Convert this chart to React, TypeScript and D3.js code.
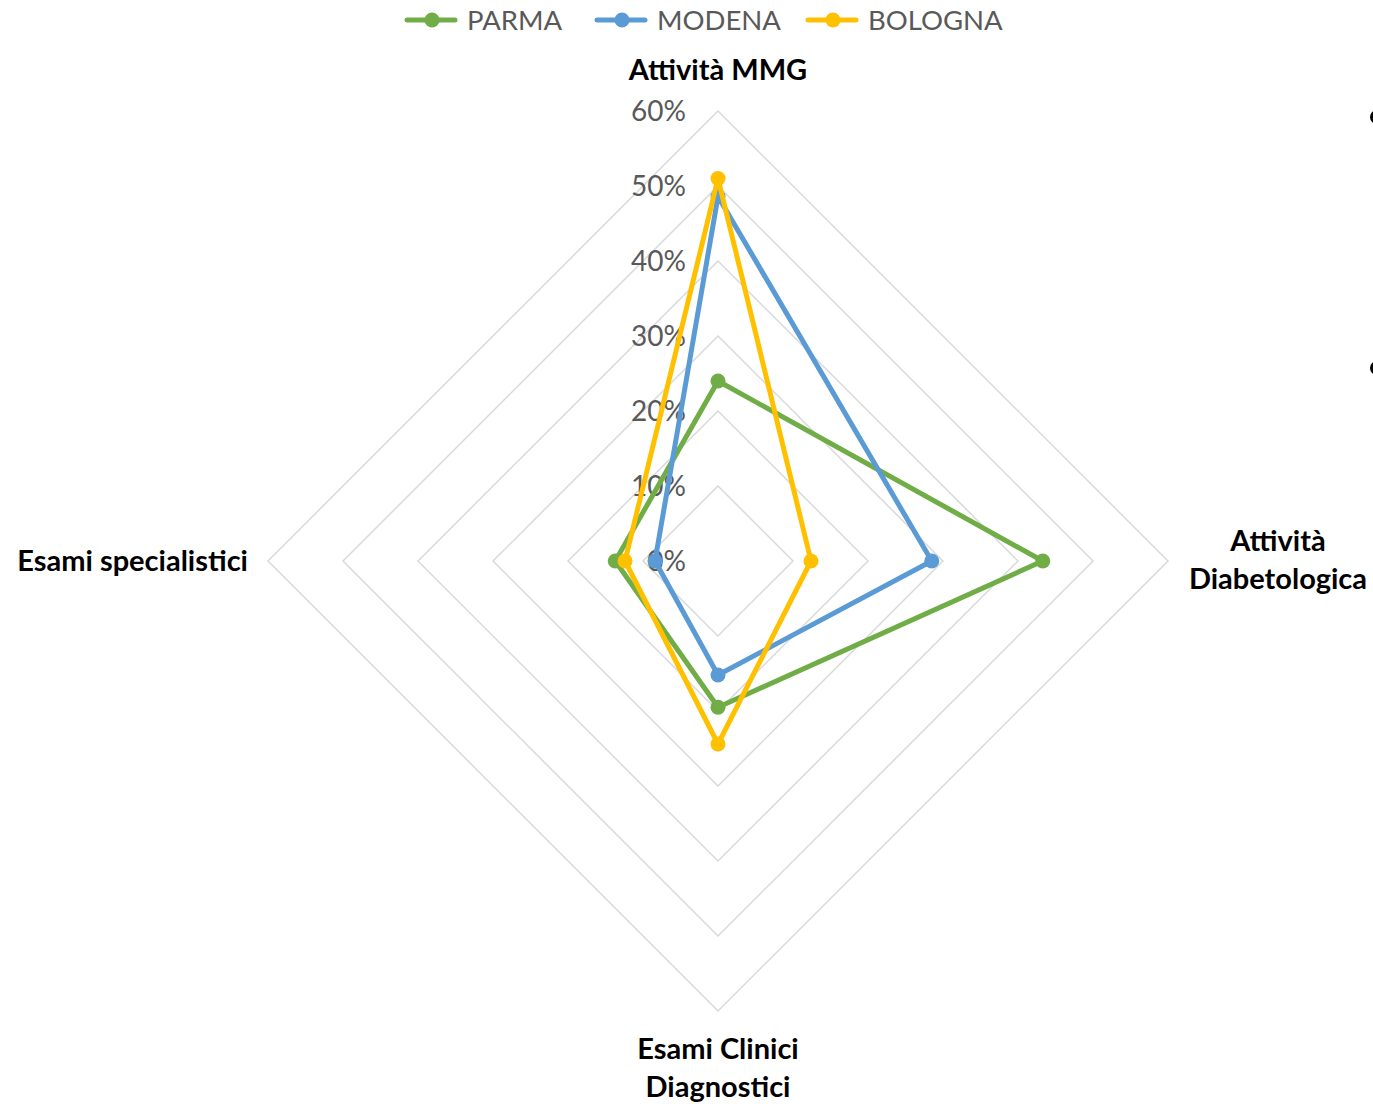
import React, { useRef, useEffect } from "react";
import * as d3 from "d3";

const categories = [
  ["Attività MMG"],
  ["Attività", "Diabetologica"],
  ["Esami Clinici", "Diagnostici"],
  ["Esami specialistici"],
];
const seriesNames = ["PARMA", "MODENA", "BOLOGNA"];
const parma = [0.24, 0.433, 0.195, 0.137];
const modena = [0.486, 0.285, 0.152, 0.084];
const bologna = [0.51, 0.124, 0.244, 0.124];
const tickValues = [0, 0.1, 0.2, 0.3, 0.4, 0.5, 0.6];

const colors = ["#70ad47", "#5b9bd5", "#ffc000"];
const FONT = "Lato, 'Open Sans', sans-serif";

export default function App() {
  const svgRef = useRef<SVGSVGElement>(null);
  const width = 1373;
  const height = 1104;

  useEffect(() => {
    if (!svgRef.current) return;
    const svg = d3.select(svgRef.current);
    svg.selectAll("*").remove();

    const cx = 718;
    const cy = 561;
    const r = d3.scaleLinear().domain([0, 0.6]).range([0, 450]);
    const angle = (i: number) => (i * Math.PI * 2) / categories.length;
    const pt = (i: number, v: number): [number, number] => [
      cx + r(v) * Math.sin(angle(i)),
      cy - r(v) * Math.cos(angle(i)),
    ];

    const g = svg.append("g");

    // grid rings
    const ringLine = d3.line<[number, number]>();
    tickValues.slice(1).forEach((t) => {
      const pts = categories.map((_, i) => pt(i, t));
      g.append("path")
        .attr("d", ringLine(pts)! + "Z")
        .attr("fill", "none")
        .attr("stroke", "#d9d9d9")
        .attr("stroke-width", 1.5);
    });

    // tick labels
    g.selectAll(".tick")
      .data(tickValues)
      .join("text")
      .attr("x", cx - 32)
      .attr("y", (d) => cy - r(d))
      .attr("dy", "0.36em")
      .attr("text-anchor", "end")
      .style("font-family", FONT)
      .style("font-size", "28px")
      .style("fill", "#595959")
      .text((d) => d3.format(".0%")(d));

    // series
    const allSeries = [parma, modena, bologna];
    allSeries.forEach((vals, s) => {
      const pts = vals.map((v, i) => pt(i, v));
      g.append("path")
        .attr("d", ringLine(pts)! + "Z")
        .attr("fill", "none")
        .attr("stroke", colors[s])
        .attr("stroke-width", 5)
        .attr("stroke-linejoin", "round");
      g.selectAll(`.m${s}`)
        .data(pts)
        .join("circle")
        .attr("cx", (d) => d[0])
        .attr("cy", (d) => d[1])
        .attr("r", 7.5)
        .attr("fill", colors[s]);
    });

    // category labels
    const labelPos: [number, number, string][] = [
      [cx, 70, "middle"],
      [1278, 541, "middle"],
      [cx, 1049, "middle"],
      [248, 561, "end"],
    ];
    categories.forEach((lines, i) => {
      const [x, y, anchor] = labelPos[i];
      const t = g
        .append("text")
        .attr("text-anchor", anchor)
        .style("font-family", FONT)
        .style("font-weight", "700")
        .style("font-size", "29px")
        .style("fill", "#000");
      lines.forEach((l, k) => {
        t.append("tspan")
          .attr("x", x)
          .attr("y", y + k * 38)
          .attr("dy", "0.36em")
          .text(l);
      });
    });

    // legend
    const legendX = [407, 597, 808];
    seriesNames.forEach((name, s) => {
      const lg = g.append("g").attr("transform", `translate(${legendX[s]},20)`);
      lg.append("line")
        .attr("x1", 0)
        .attr("x2", 48)
        .attr("stroke", colors[s])
        .attr("stroke-width", 5)
        .attr("stroke-linecap", "round");
      lg.append("circle").attr("cx", 25).attr("r", 7.5).attr("fill", colors[s]);
      lg.append("text")
        .attr("x", 60)
        .attr("dy", "0.36em")
        .style("font-family", FONT)
        .style("font-size", "27.5px")
        .style("fill", "#595959")
        .text(name);
    });

    // stray bullets at the right edge
    [117, 368].forEach((y) => {
      g.append("circle").attr("cx", 1377).attr("cy", y).attr("r", 7).attr("fill", "#000");
    });
  }, []);

  return (
    <svg
      ref={svgRef}
      width={width}
      height={height}
      style={{ position: "absolute", left: 0, top: 0, display: "block" }}
    />
  );
}
